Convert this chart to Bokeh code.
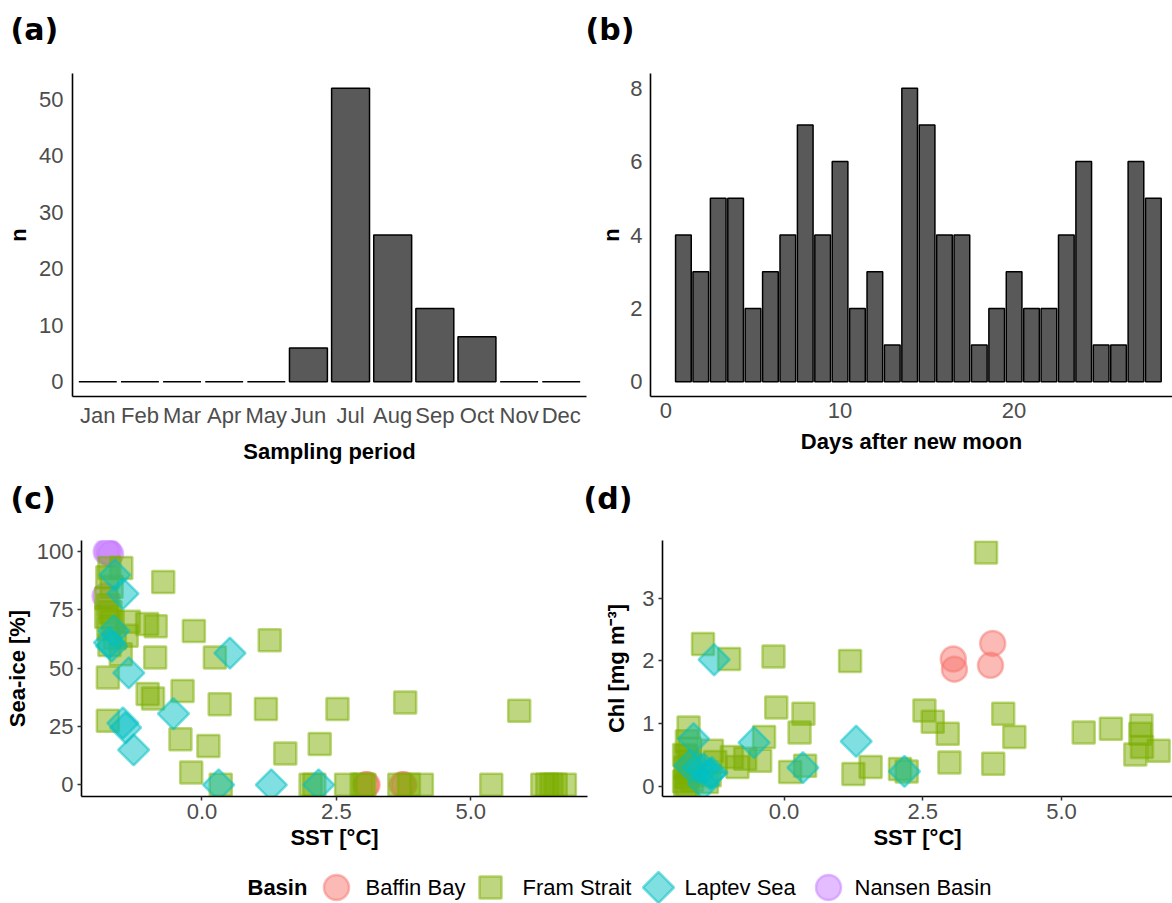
import numpy as np
from bokeh.plotting import figure
from bokeh.layouts import column, row
from bokeh.models import Range1d, FixedTicker, PrintfTickFormatter
from bokeh.embed import file_html
from bokeh.resources import INLINE
from bokeh.core.properties import value

# ------------------------------------------------------------------ data
months = ["Jan", "Feb", "Mar", "Apr", "May", "Jun", "Jul", "Aug", "Sep", "Oct", "Nov", "Dec"]
month_counts = [0, 0, 0, 0, 0, 6, 52, 26, 13, 8, 0, 0]

moon_days = list(range(1, 29))
moon_counts = [4, 3, 5, 5, 2, 3, 4, 7, 4, 6, 2, 3, 1, 8, 7, 4, 4, 1, 2, 3, 2, 2, 4, 6, 1, 1, 6, 5]

basins = ["Baffin Bay", "Fram Strait", "Laptev Sea", "Nansen Basin"]
panel_tags = ["(a)", "(b)", "(c)", "(d)"]

# panel (c): SST vs sea-ice
baffin_sst_c = [3.05, 3.07, 3.72, 3.76]
baffin_ice_c = [0, 0, 0, 0]
fram_sst_c = [-1.72, -1.50, -1.76, -1.68, -1.78, -1.74, -1.70, -1.78, -1.66, -1.74, -1.62, -1.72,
              -1.36, -1.40, -1.51, -1.02, -0.86, -0.72, -0.15, 1.26, 0.24, -0.87, -1.75, -1.01,
              -0.91, -0.36, 0.33, 1.19, 2.52, 3.78, 5.90, -1.75, -0.40, 0.12, 1.55, 2.19, -0.20,
              0.35, 2.02, 2.09, 2.68, 2.97, 3.02, 3.67, 3.85, 4.09, 5.38, 6.33, 6.42, 6.50, 6.58, 6.75]
fram_ice_c = [93, 93, 89, 85, 80, 77, 74, 72, 70, 67, 63, 60,
              70, 64, 56, 69, 68, 87, 66, 62, 54.6, 54.6, 46, 39,
              37, 40.3, 34.6, 32.5, 32.5, 35.3, 31.8, 27.5, 19.6, 16.7, 13.4, 17.5, 5.3,
              0, 0, 0, 0, 0, 0, 0, 0, 0, 0, 0, 0, 0, 0, 0]
laptev_sst_c = [-1.62, -1.47, -1.64, -1.72, -1.68, -1.36, 0.52, -0.53, -1.47, -1.42, -1.27, 0.31, 1.29, 2.17]
laptev_ice_c = [90, 82, 66, 61, 59.5, 48, 56.5, 30.5, 26.5, 24.5, 15, 0, 0, 0]
nansen_sst_c = [-1.78, -1.74, -1.70, -1.80]
nansen_ice_c = [100, 100, 99, 81]

# panel (d): SST vs chlorophyll
baffin_sst_d = [3.05, 3.07, 3.72, 3.76]
baffin_chl_d = [2.03, 1.87, 1.93, 2.28]
fram_sst_d = [3.64, 2.53, 2.68, 2.95, 3.95, 4.15, 2.98, 3.77, 5.40, 5.89, 6.44, 6.42, 6.45, 6.33, 6.75,
              2.09, 2.21, -1.46, -0.99, -0.19, 1.19, -0.14, 0.35, 0.28, -1.72, -0.36, -0.43, -1.30,
              -0.84, -0.70, -0.94, 0.11, 0.38, 1.25, 1.56, -1.34, -1.24, -1.39,
              -1.75, -1.70, -1.76, -1.72, -1.78, -1.70, -1.76, -1.80, -1.74, -1.78, -1.66, -1.80, -1.68]
fram_chl_d = [3.73, 1.21, 1.03, 0.84, 1.16, 0.79, 0.38, 0.36, 0.86, 0.92, 0.97, 0.84, 0.63, 0.51, 0.57,
              0.28, 0.24, 2.27, 2.03, 2.07, 2.00, 1.26, 1.16, 0.86, 0.94, 0.79, 0.41, 0.57,
              0.31, 0.44, 0.47, 0.23, 0.33, 0.20, 0.31, 0.18, 0.39, 0.07,
              0.72, 0.60, 0.48, 0.40, 0.30, 0.22, 0.15, 0.08, 0.03, 0.00, 0.10, 0.50, 0.33]
laptev_sst_d = [-1.26, -0.54, 1.30, 0.34, 2.17, -1.63, -1.45, -1.33, -1.45, -1.70, -1.55, -1.30]
laptev_chl_d = [2.02, 0.70, 0.72, 0.30, 0.24, 0.76, 0.28, 0.20, 0.04, 0.33, 0.30, 0.22]

# tick labels
c_yticks = [0, 25, 50, 75, 100]
d_yticks = [0, 1, 2, 3]
sst_ticks = [0.0, 2.5, 5.0]
moon_ticks = [0, 10, 20]
a_yticks = [0, 10, 20, 30, 40, 50]
b_yticks = [0, 2, 4, 6, 8]

# ------------------------------------------------------------------ style
COLORS = {"Baffin Bay": "#F8766D", "Fram Strait": "#7CAE00", "Laptev Sea": "#00BFC4", "Nansen Basin": "#C77CFF"}
MARK = {"Baffin Bay": ("circle", 25, 0.0), "Fram Strait": ("square", 22, 0.0),
        "Laptev Sea": ("square", 22, np.pi / 4), "Nansen Basin": ("circle", 25, 0.0)}
FONT = "Liberation Sans"
TICK_COL = "#4D4D4D"
W = 1172


def make_fig(w, h, bl, br, bt, bb, xr, yr):
    p = figure(width=w, height=h, x_range=Range1d(*xr), y_range=Range1d(*yr),
               output_backend="svg", toolbar_location=None,
               min_border_left=bl, min_border_right=br, min_border_top=bt, min_border_bottom=bb)
    p.xgrid.visible = False
    p.ygrid.visible = False
    p.outline_line_color = None
    p.background_fill_color = "white"
    p.border_fill_color = "white"
    return p


def blank_fig(w, h):
    p = figure(width=w, height=h, x_range=Range1d(0, w), y_range=Range1d(0, h),
               x_axis_type=None, y_axis_type=None, output_backend="svg", toolbar_location=None,
               min_border_left=0, min_border_right=0, min_border_top=0, min_border_bottom=0)
    p.xgrid.visible = False
    p.ygrid.visible = False
    p.outline_line_color = None
    p.border_fill_color = "white"
    return p


def style_axes(p, tick_out, xlabel, ylabel, xstand, ystand, xlab_stand, ylab_stand):
    for ax, lab, st, lst in ((p.xaxis[0], xlabel, xstand, xlab_stand), (p.yaxis[0], ylabel, ystand, ylab_stand)):
        ax.axis_label = lab
        ax.axis_line_color = "black"
        ax.axis_line_width = 1.6
        ax.major_tick_in = 0
        ax.major_tick_out = tick_out
        ax.major_tick_line_color = "#333333"
        ax.major_tick_line_width = 1.5
        ax.minor_tick_in = 0
        ax.minor_tick_out = 0
        ax.major_label_text_font = FONT
        ax.major_label_text_font_size = "22px"
        ax.major_label_text_color = TICK_COL
        ax.major_label_standoff = st
        ax.axis_label_text_font = FONT
        ax.axis_label_text_font_size = "22px"
        ax.axis_label_text_font_style = "bold"
        ax.axis_label_text_color = "black"
        ax.axis_label_standoff = lst


def scatter_basin(p, name, xs, ys):
    m, s, a = MARK[name]
    p.scatter(xs, ys, marker=m, size=s, angle=a, fill_color=COLORS[name], fill_alpha=0.5,
              line_color=COLORS[name], line_alpha=0.5, line_width=2.5)


def tag_strip(h, tags, xs, mid_from_bottom):
    s = blank_fig(W, h)
    s.text(x=xs, y=[mid_from_bottom] * len(tags), text=tags, text_font=value("DejaVu Sans"),
           text_font_size=value("30px"), text_font_style="bold", text_baseline="middle",
           text_color="black")
    return s


# ------------------------------------------------------------------ panel tag strips
strip1 = tag_strip(50, panel_tags[:2], [10, 585], 50 - 29)
strip2 = tag_strip(45, panel_tags[2:], [10, 583], 45 - 22.5)

# ------------------------------------------------------------------ (a)
pa = make_fig(590, 425, 72, 4, 23, 79, (0.4, 12.6), (-2.6, 54.6))
pa.vbar(x=list(range(1, len(months) + 1)), top=month_counts, width=0.9,
        fill_color="#595959", line_color="black", line_width=1.5)
style_axes(pa, 0, "Sampling period", "n", 6, 9, 8, 5)
pa.xaxis.ticker = FixedTicker(ticks=list(range(1, len(months) + 1)))
pa.xaxis.major_label_overrides = {i + 1: m for i, m in enumerate(months)}
pa.yaxis.ticker = FixedTicker(ticks=a_yticks)

# ------------------------------------------------------------------ (b)
pb = make_fig(582, 425, 60, 0, 23, 79, (-0.89, 29.1), (-0.4, 8.4))
pb.vbar(x=moon_days, top=moon_counts, width=0.9,
        fill_color="#595959", line_color="black", line_width=1.5)
style_axes(pb, 0, "Days after new moon", "n", 6, 8, 8, 3)
pb.xaxis.ticker = FixedTicker(ticks=moon_ticks)
pb.yaxis.ticker = FixedTicker(ticks=b_yticks)

# ------------------------------------------------------------------ (c)
pc = make_fig(590, 340, 81, 3, 20, 64, (-2.24, 7.17), (-5.0, 104.8))
scatter_basin(pc, "Nansen Basin", nansen_sst_c, nansen_ice_c)
scatter_basin(pc, "Baffin Bay", baffin_sst_c, baffin_ice_c)
scatter_basin(pc, "Fram Strait", fram_sst_c, fram_ice_c)
scatter_basin(pc, "Laptev Sea", laptev_sst_c, laptev_ice_c)
style_axes(pc, 4, "SST [°C]", "Sea-ice [%]", 3, 4, 3, 4)
pc.xaxis.ticker = FixedTicker(ticks=sst_ticks)
pc.xaxis.formatter = PrintfTickFormatter(format="%.1f")
pc.yaxis.ticker = FixedTicker(ticks=c_yticks)

# ------------------------------------------------------------------ (d)
pd_ = make_fig(582, 340, 72, 0, 20, 64, (-2.19, 7.0), (-0.16, 3.92))
scatter_basin(pd_, "Baffin Bay", baffin_sst_d, baffin_chl_d)
scatter_basin(pd_, "Fram Strait", fram_sst_d, fram_chl_d)
scatter_basin(pd_, "Laptev Sea", laptev_sst_d, laptev_chl_d)
style_axes(pd_, 4, "SST [°C]", "Chl [mg m⁻³]", 3, 4, 3, 10)
pd_.xaxis.ticker = FixedTicker(ticks=sst_ticks)
pd_.xaxis.formatter = PrintfTickFormatter(format="%.1f")
pd_.yaxis.ticker = FixedTicker(ticks=d_yticks)

# ------------------------------------------------------------------ legend
LH = 43
leg = blank_fig(W, LH)
yc = LH - 27
key_x = [336, 490, 658, 828]
lab_x = [365, 522, 684, 854]
for name, kx in zip(basins, key_x):
    m, s, a = MARK[name]
    leg.scatter([kx], [yc], marker=m, size=s, angle=a, fill_color=COLORS[name], fill_alpha=0.5,
                line_color=COLORS[name], line_alpha=0.5, line_width=2.5)
leg.text(x=[247], y=[yc], text=["Basin"], text_font=value(FONT), text_font_size=value("22px"),
         text_font_style="bold", text_baseline="middle", text_color="black")
leg.text(x=lab_x, y=[yc] * 4, text=basins, text_font=value(FONT), text_font_size=value("22px"),
         text_baseline="middle", text_color="black")

layout = column(strip1, row(pa, pb), strip2, row(pc, pd_), leg)
open("out.html", "w").write(file_html(layout, INLINE))
